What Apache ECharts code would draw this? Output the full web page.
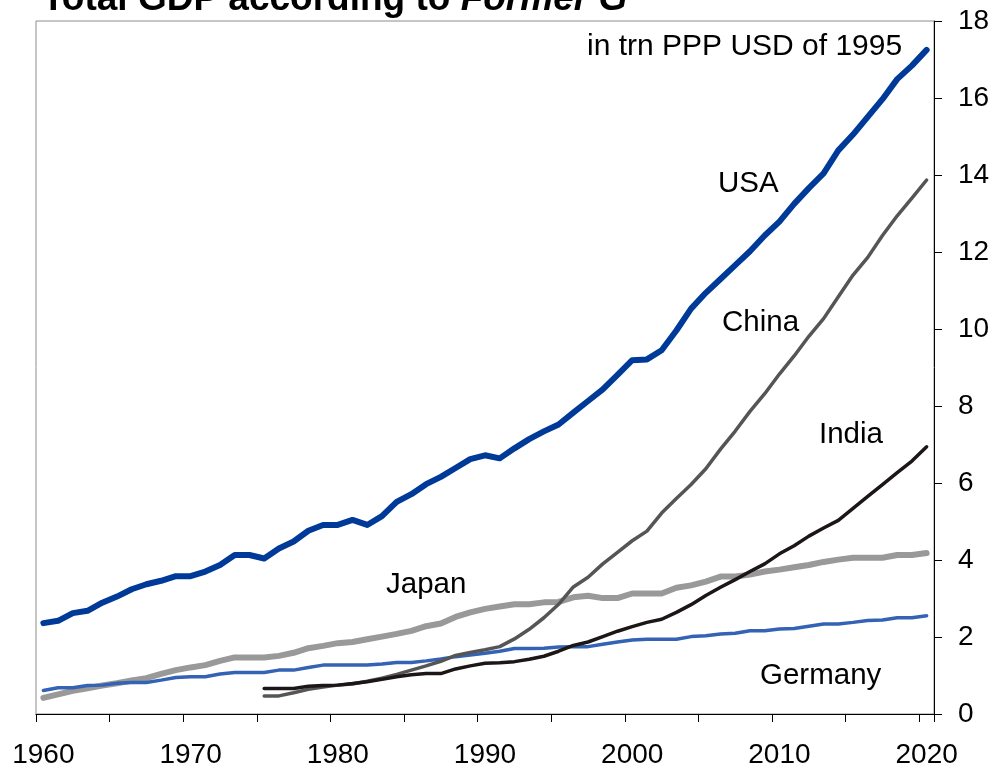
<!DOCTYPE html>
<html><head><meta charset="utf-8">
<script src="https://cdn.jsdelivr.net/npm/echarts@6/dist/echarts.min.js"></script>
<style>html,body{margin:0;padding:0;background:#fff}#c{width:994px;height:773px}</style>
</head><body><div id="c"></div>
<script>
const years = ['1960','1961','1962','1963','1964','1965','1966','1967','1968','1969',
  '1970','1971','1972','1973','1974','1975','1976','1977','1978','1979',
  '1980','1981','1982','1983','1984','1985','1986','1987','1988','1989',
  '1990','1991','1992','1993','1994','1995','1996','1997','1998','1999',
  '2000','2001','2002','2003','2004','2005','2006','2007','2008','2009',
  '2010','2011','2012','2013','2014','2015','2016','2017','2018','2019','2020'];
const usa = [2.36,2.42,2.62,2.68,2.89,3.05,3.24,3.37,3.46,3.58,
  3.58,3.70,3.87,4.13,4.13,4.04,4.30,4.48,4.76,4.91,
  4.91,5.04,4.91,5.14,5.51,5.71,5.97,6.16,6.39,6.62,
  6.72,6.64,6.90,7.14,7.34,7.52,7.83,8.13,8.43,8.81,
  9.19,9.21,9.45,9.96,10.53,10.94,11.30,11.66,12.02,12.43,
  12.79,13.25,13.66,14.04,14.64,15.05,15.51,15.97,16.49,16.84,17.25];
const china = [null,null,null,null,null,null,null,null,null,null,
  null,null,null,null,null,0.47,0.47,0.55,0.64,0.70,
  0.75,0.78,0.85,0.93,1.03,1.14,1.25,1.37,1.52,1.60,
  1.67,1.75,1.95,2.20,2.50,2.85,3.30,3.55,3.90,4.20,
  4.50,4.75,5.22,5.60,5.96,6.37,6.88,7.35,7.86,8.32,
  8.83,9.30,9.81,10.27,10.84,11.40,11.86,12.43,12.94,13.40,13.87];
const india = [null,null,null,null,null,null,null,null,null,null,
  null,null,null,null,null,0.66,0.66,0.66,0.72,0.74,
  0.75,0.79,0.84,0.90,0.97,1.02,1.05,1.05,1.17,1.25,
  1.32,1.33,1.36,1.42,1.50,1.63,1.78,1.87,2.01,2.15,
  2.27,2.38,2.46,2.64,2.84,3.08,3.29,3.49,3.70,3.90,
  4.16,4.37,4.62,4.83,5.03,5.34,5.65,5.96,6.27,6.57,6.94];
const japan = [0.42,0.51,0.60,0.67,0.74,0.80,0.87,0.93,1.04,1.14,
  1.21,1.27,1.38,1.47,1.47,1.47,1.51,1.59,1.71,1.77,
  1.84,1.87,1.94,2.01,2.08,2.16,2.28,2.35,2.52,2.64,
  2.73,2.79,2.85,2.85,2.90,2.91,3.03,3.07,3.01,3.01,
  3.13,3.13,3.13,3.28,3.34,3.44,3.57,3.57,3.62,3.70,
  3.75,3.81,3.87,3.95,4.01,4.06,4.06,4.06,4.13,4.13,4.18];
const germany = [0.61,0.68,0.68,0.74,0.75,0.80,0.82,0.82,0.88,0.95,
  0.97,0.97,1.04,1.08,1.08,1.08,1.14,1.14,1.21,1.27,
  1.27,1.27,1.27,1.30,1.34,1.34,1.38,1.43,1.49,1.53,
  1.58,1.63,1.70,1.70,1.71,1.74,1.75,1.75,1.81,1.87,
  1.92,1.94,1.94,1.94,2.01,2.03,2.08,2.10,2.16,2.16,
  2.21,2.22,2.28,2.34,2.34,2.38,2.43,2.44,2.50,2.50,2.55];

const FONT = '"Liberation Sans", Arial, sans-serif';
const chart = echarts.init(document.getElementById('c'), null, {renderer: 'canvas'});

function line(name, data, color, width) {
  return {
    name: name, type: 'line', data: data, showSymbol: false, symbol: 'none',
    connectNulls: false, smooth: false,
    lineStyle: {color: color, width: width, cap: 'round', join: 'round'},
    itemStyle: {color: color}
  };
}
function label(text, x, y, size) {
  return {type: 'text', x: x, y: y, z: 100,
    style: {text: text, fill: '#000', fontSize: size || 29.5, fontFamily: FONT,
      textAlign: 'left', textVerticalAlign: 'middle'}};
}

chart.setOption({
  animation: false,
  grid: {left: 36, right: 60, top: 21, bottom: 59, show: true,
    borderColor: '#8c8c8c', borderWidth: 1, backgroundColor: 'transparent'},
  xAxis: {
    type: 'category', data: years, boundaryGap: true,
    axisLine: {show: true, lineStyle: {color: '#000', width: 1}},
    axisTick: {show: true, interval: 4, length: 8, lineStyle: {color: '#000'}},
    axisLabel: {interval: 9, fontSize: 28, color: '#000', fontFamily: FONT, margin: 27},
    splitLine: {show: false}
  },
  yAxis: {
    type: 'value', position: 'right', min: 0, max: 18, interval: 2,
    axisLine: {show: true, lineStyle: {color: '#000', width: 1}},
    axisTick: {show: true, length: 8, lineStyle: {color: '#000'}},
    axisLabel: {fontSize: 28, color: '#000', fontFamily: FONT, margin: 24},
    splitLine: {show: false}
  },
  series: [
    line('Japan', japan, '#999999', 6),
    line('Germany', germany, '#3462b5', 3.5),
    line('China', china, '#555555', 3.5),
    line('India', india, '#1c1616', 3.5),
    line('USA', usa, '#003a99', 6)
  ],
  graphic: [
    {type: 'text', x: 42, y: 0, z: 100,
      style: {text: '{b|Total GDP according to }{i|Former G}',
        textAlign: 'left', textVerticalAlign: 'middle',
        rich: {
          b: {fontSize: 37, fontWeight: 'bold', fontFamily: FONT, fill: '#000'},
          i: {fontSize: 37, fontWeight: 'bold', fontStyle: 'italic', fontFamily: FONT, fill: '#000'}
        }}},
    label('in trn PPP USD of 1995', 587, 47, 30),
    label('USA', 718, 184),
    label('China', 722, 323),
    label('India', 819, 435),
    label('Japan', 386, 585),
    label('Germany', 760, 676)
  ]
});
</script>
</body></html>
